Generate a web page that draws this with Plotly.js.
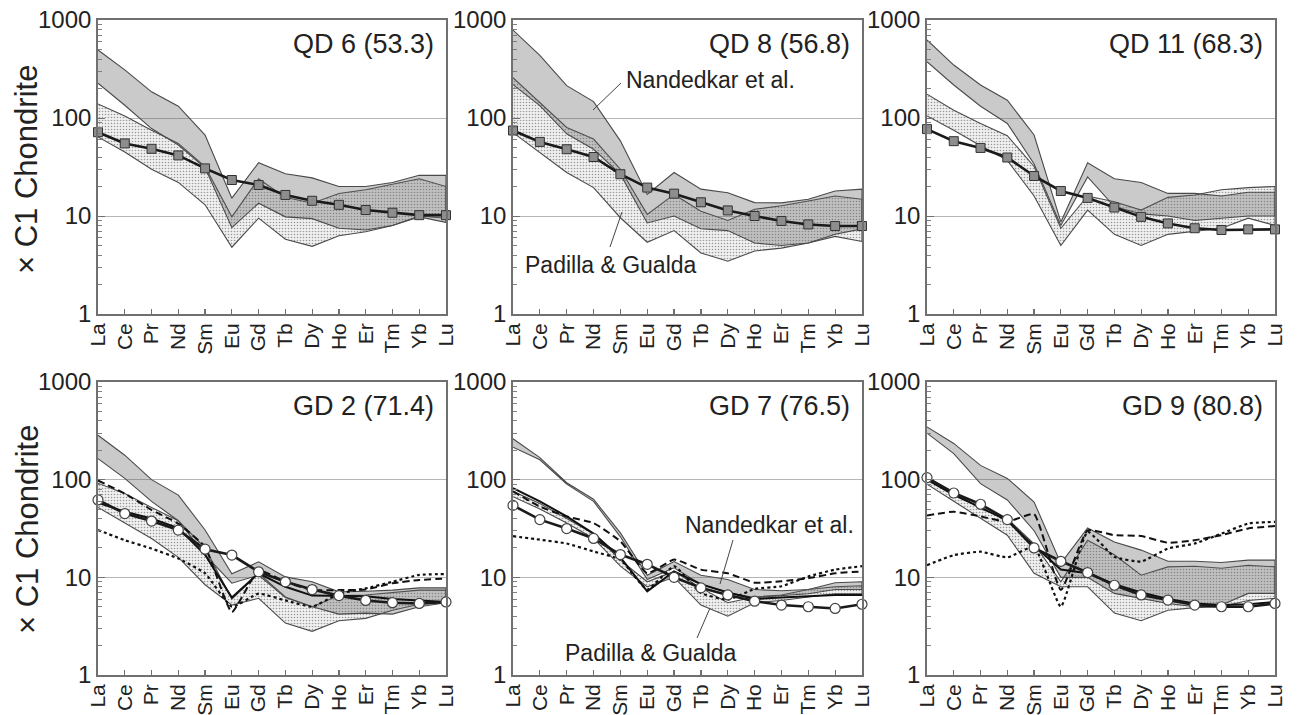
<!DOCTYPE html>
<html>
<head>
<meta charset="utf-8">
<script src="https://cdn.plot.ly/plotly-3.0.1.min.js"></script>
<style>html,body{margin:0;padding:0;background:#fff;}#chart{width:1298px;height:715px;}</style>
</head>
<body>
<div id="chart"></div>
<script>
// ---- Data ----
const elements = ['La','Ce','Pr','Nd','Sm','Eu','Gd','Tb','Dy','Ho','Er','Tm','Yb','Lu'];
const yTickVals = [1, 10, 100, 1000];
const yTickText = ['1', '10', '100', '1000'];
const panelTitles = ['QD 6 (53.3)', 'QD 8 (56.8)', 'QD 11 (68.3)', 'GD 2 (71.4)', 'GD 7 (76.5)', 'GD 9 (80.8)'];

// QD 6
const qd6_nandUp = [494, 310, 185, 132, 67, 15.2, 35, 27, 24.5, 20, 20, 22, 26, 26];
const qd6_nandLo = [226, 135, 78, 53, 31, 7.6, 13.5, 9.8, 9.4, 7.5, 7.2, 8, 9.8, 8.6];
const qd6_padUp = [139, 105, 75, 55, 32, 9.8, 24, 15.5, 13.5, 17, 18.5, 21, 24, 20];
const qd6_padLo = [64, 45, 30, 22, 13, 4.8, 9.5, 5.8, 4.9, 6.3, 6.9, 8, 10, 9.5];
const qd6_sample = [71.6, 55, 48.5, 41.5, 30.6, 23.3, 20.7, 16.4, 14.3, 13, 11.5, 10.8, 10.2, 10.2];

// QD 8
const qd8_nandUp = [790, 435, 214, 147, 58.5, 16.6, 27.8, 18.8, 17.3, 13.7, 13.6, 14.8, 18, 18.8];
const qd8_nandLo = [219, 134, 69, 48, 26.7, 8.5, 10, 7.4, 7.1, 5.3, 5, 5.3, 6.5, 7.4];
const qd8_padUp = [258, 145, 80, 61, 30, 10.4, 16.6, 11.2, 9, 11.7, 12.7, 14.2, 16, 14.8];
const qd8_padLo = [71, 44.5, 27.8, 19.5, 9.6, 5.4, 7.1, 4.2, 3.45, 4.4, 4.7, 5.3, 6.2, 5.5];
const qd8_sample = [74.5, 57, 48, 40, 26.7, 19.5, 16.9, 13.8, 11.4, 10, 8.9, 8.2, 7.9, 7.9];

// QD 11
const qd11_nandUp = [625, 347, 217, 152, 67, 8.7, 35, 24, 22, 17, 17, 16, 17.5, 17.5];
const qd11_nandLo = [375, 217, 132, 88, 34, 8.0, 25, 12.5, 10.5, 10, 9, 9.5, 10, 10];
const qd11_padUp = [175, 120, 88, 66, 32, 7.5, 16, 14, 11.5, 15.5, 16.4, 18.5, 19.5, 20];
const qd11_padLo = [105, 75, 52, 37, 16, 5.0, 11.5, 6.5, 5.0, 6.5, 7, 7.5, 9.5, 8];
const qd11_sample = [77, 58, 49.5, 39.5, 25.6, 18, 15.3, 12.2, 9.8, 8.4, 7.5, 7.2, 7.3, 7.3];

// GD 2
const gd2_nandUp = [285, 178, 100, 69.5, 30.5, 10.9, 14.4, 10.1, 9, 7.1, 7.2, 7.4, 7.8, 7.8];
const gd2_nandLo = [164, 103, 60, 38, 17, 8.7, 10.5, 6.2, 5.0, 4.2, 4.3, 4.2, 5.0, 5.5];
const gd2_padUp = [92, 72, 52, 38, 20, 6.0, 11, 6.3, 5.0, 6.5, 6.6, 7, 7.4, 7.4];
const gd2_padLo = [52, 36, 25, 16, 8.4, 5.2, 6.1, 3.4, 2.8, 3.6, 3.8, 4.6, 5.3, 5.5];
const gd2_sample = [62, 45, 37.7, 30.5, 19.4, 16.9, 11.4, 9, 7.5, 6.5, 5.8, 5.5, 5.4, 5.6];
const gd2_solid = [58, 47, 40, 32, 17, 6.2, 11, 8, 6.5, 6.5, 6.4, 6, 5.8, 5.6];
const gd2_dashed = [98, 72, 49, 35.5, 20.5, 4.4, 11.8, 9, 7.4, 7.4, 7.5, 8.7, 9.4, 9.7];
const gd2_dotted = [30.5, 24, 19.7, 15.6, 11, 5, 6.8, 5.8, 5, 6.8, 7.7, 9, 10.6, 10.8];

// GD 7
const gd7_nandUp = [262, 168, 93, 63, 28.5, 10.5, 14.5, 10.5, 9.5, 7.5, 7.3, 7.5, 8.8, 9];
const gd7_nandLo = [215, 160, 90, 60, 26, 9.5, 12.5, 8.5, 7, 6.2, 6.5, 6.8, 7.5, 7.5];
const gd7_padUp = [76, 57, 40, 28, 15, 9, 11.5, 7.8, 5.5, 6.3, 6.6, 7.5, 8, 8.2];
const gd7_padLo = [67, 50, 36, 25, 13, 8, 10, 5.2, 4.0, 5.5, 5.8, 6.3, 6.8, 6.8];
const gd7_sample = [54.5, 39, 31.6, 25, 17.1, 13.6, 10, 7.8, 6.6, 5.7, 5.2, 5.0, 4.8, 5.3];
const gd7_solid = [82, 60, 42, 28, 16, 7.2, 11.5, 8.5, 7, 6, 6.2, 6.4, 6.6, 6.6];
const gd7_dashed = [76, 53, 42, 36, 23.4, 11, 15.2, 12, 11, 8.8, 9.1, 9.8, 11, 11.5];
const gd7_dotted = [26.4, 24.3, 22.2, 18.4, 15.2, 7.5, 13, 6.9, 5.9, 7.6, 8.1, 10.2, 12, 13];

// GD 9
const gd9_nandUp = [347, 235, 140, 103, 59, 13.9, 32, 23, 19, 14.6, 14.6, 14.2, 15, 15];
const gd9_nandLo = [300, 185, 91, 62, 30, 10, 10, 6.85, 6.1, 5.4, 5.0, 5.2, 6.85, 6.85];
const gd9_padUp = [105, 75, 50, 40, 22, 9, 24, 17, 10.5, 12.8, 13, 12.4, 13.3, 12.8];
const gd9_padLo = [90, 60, 40, 27, 11, 8, 8, 4.3, 3.6, 4.6, 4.9, 5.0, 5.8, 6.1];
const gd9_sample = [105, 73, 56, 39, 20, 14.6, 11.2, 8.3, 6.6, 5.85, 5.2, 5, 5, 5.4];
const gd9_solid = [100, 70, 52, 38, 21, 12, 11, 8.5, 7, 6, 5.4, 5.2, 5.3, 5.6];
const gd9_dashed = [43, 47, 42, 37, 44.5, 7.4, 30.3, 27, 26.5, 22.6, 24, 27, 31.7, 33.5];
const gd9_dotted = [13.3, 16.9, 18.3, 16, 20.5, 5, 29.3, 16.2, 14.5, 19.7, 22.2, 28, 35.6, 37];

// ---- Layout geometry (pixels) ----
const W = 1298, H = 715;
const xDom = [[98, 446], [513, 862], [927, 1275]];
const yDom = [[20, 314], [382, 675]];

const panels = [
  {nU: qd6_nandUp, nL: qd6_nandLo, pU: qd6_padUp, pL: qd6_padLo, s: qd6_sample, kind: 'sq'},
  {nU: qd8_nandUp, nL: qd8_nandLo, pU: qd8_padUp, pL: qd8_padLo, s: qd8_sample, kind: 'sq'},
  {nU: qd11_nandUp, nL: qd11_nandLo, pU: qd11_padUp, pL: qd11_padLo, s: qd11_sample, kind: 'sq'},
  {nU: gd2_nandUp, nL: gd2_nandLo, pU: gd2_padUp, pL: gd2_padLo, s: gd2_sample, kind: 'ci', solid: gd2_solid, dashed: gd2_dashed, dotted: gd2_dotted},
  {nU: gd7_nandUp, nL: gd7_nandLo, pU: gd7_padUp, pL: gd7_padLo, s: gd7_sample, kind: 'ci', solid: gd7_solid, dashed: gd7_dashed, dotted: gd7_dotted},
  {nU: gd9_nandUp, nL: gd9_nandLo, pU: gd9_padUp, pL: gd9_padLo, s: gd9_sample, kind: 'ci', solid: gd9_solid, dashed: gd9_dashed, dotted: gd9_dotted}
];

const FONT = 'Liberation Sans, Arial, Helvetica, sans-serif';
const revEls = elements.slice().reverse();
const polyX = elements.concat(revEls);

const traces = [];
const layout = {
  width: W, height: H,
  margin: {l: 0, r: 0, t: 0, b: 0},
  paper_bgcolor: '#ffffff', plot_bgcolor: '#ffffff',
  showlegend: false,
  font: {family: FONT, color: '#222'},
  annotations: [], shapes: []
};

panels.forEach((p, i) => {
  const n = i + 1;
  const xa = 'x' + (n === 1 ? '' : n), ya = 'y' + (n === 1 ? '' : n);
  const col = i % 3, row = Math.floor(i / 3);
  const xd = xDom[col], yd = yDom[row];

  // Padilla & Gualda band (stippled)
  traces.push({
    type: 'scatter', mode: 'lines', xaxis: xa, yaxis: ya,
    x: polyX, y: p.pU.concat(p.pL.slice().reverse()),
    fill: 'toself', fillcolor: '#f0f0f0',
    fillpattern: {shape: '.', bgcolor: '#f0f0f0', fgcolor: '#9a9a9a', size: 3, solidity: 0.22},
    line: {color: '#4a4a4a', width: 1.1}, hoverinfo: 'skip'
  });
  // Nandedkar et al. band (grey)
  traces.push({
    type: 'scatter', mode: 'lines', xaxis: xa, yaxis: ya,
    x: polyX, y: p.nU.concat(p.nL.slice().reverse()),
    fill: 'toself', fillcolor: 'rgba(95,95,95,0.33)',
    line: {color: '#4a4a4a', width: 1.1}, hoverinfo: 'skip'
  });
  if (p.kind === 'ci') {
    traces.push({type: 'scatter', mode: 'lines', xaxis: xa, yaxis: ya, x: elements, y: p.dotted,
      line: {color: '#111', width: 2.2, dash: 'dot', shape: 'spline', smoothing: 0.4}});
    traces.push({type: 'scatter', mode: 'lines', xaxis: xa, yaxis: ya, x: elements, y: p.dashed,
      line: {color: '#111', width: 2, dash: '7px,4px', shape: 'spline', smoothing: 0.4}});
    traces.push({type: 'scatter', mode: 'lines', xaxis: xa, yaxis: ya, x: elements, y: p.solid,
      line: {color: '#111', width: 2}});
  }
  // Sample data
  traces.push({
    type: 'scatter', mode: 'lines+markers', xaxis: xa, yaxis: ya, cliponaxis: false,
    x: elements, y: p.s,
    line: {color: '#1a1a1a', width: 2.6},
    marker: p.kind === 'sq'
      ? {symbol: 'square', size: 9, color: '#8d8d8d', line: {color: '#333', width: 1}}
      : {symbol: 'circle', size: 10, color: '#ffffff', line: {color: '#444', width: 1.2}}
  });

  const axX = 'xaxis' + (n === 1 ? '' : n), axY = 'yaxis' + (n === 1 ? '' : n);
  layout[axX] = {
    domain: [xd[0] / W, xd[1] / W], anchor: ya,
    type: 'category', range: [0, 13],
    tickmode: 'array', tickvals: elements, ticktext: elements,
    tickangle: -90, ticks: 'inside', ticklen: 5, tickcolor: '#707070', tickwidth: 1.2,
    ticklabelstandoff: -1,
    tickfont: {family: FONT, size: 21, color: '#222'},
    showline: true, mirror: true, linecolor: '#707070', linewidth: 1.8,
    showgrid: false, zeroline: false, fixedrange: true
  };
  layout[axY] = {
    domain: [1 - yd[1] / H, 1 - yd[0] / H], anchor: xa,
    type: 'log', range: [0, 3],
    tickmode: 'array', tickvals: yTickVals, ticktext: yTickText,
    ticks: 'inside', ticklen: 7, tickcolor: '#707070', tickwidth: 1,
    tickfont: {family: FONT, size: 24, color: '#222'},
    minor: {tickmode: 'array', tickvals: [2,3,4,5,6,7,8,9,20,30,40,50,60,70,80,90,200,300,400,500,600,700,800,900],
            ticks: 'inside', ticklen: 4, tickcolor: '#808080', showgrid: false},
    showline: true, mirror: true, linecolor: '#707070', linewidth: 1.8,
    showgrid: true, gridcolor: '#b5b5b5', gridwidth: 1, zeroline: false, fixedrange: true
  };

  layout.annotations.push({
    xref: 'paper', yref: 'paper', x: (xd[1] - 10) / W, y: 1 - (yd[0] + 24) / H,
    xanchor: 'right', yanchor: 'middle', showarrow: false,
    text: panelTitles[i], font: {family: FONT, size: 27, color: '#222'}
  });
});

// Y axis titles
[170, 530].forEach(cy => {
  layout.annotations.push({
    xref: 'paper', yref: 'paper', x: 27 / W, y: 1 - cy / H,
    xanchor: 'center', yanchor: 'middle', showarrow: false, textangle: -90,
    text: '× C1 Chondrite', font: {family: FONT, size: 31, color: '#222'}
  });
});

// Band labels with leader lines
const bandLabels = [
  {text: 'Nandedkar et al.', x: 624, y: 80, line: [621, 83, 593, 110]},
  {text: 'Padilla &amp; Gualda', x: 523, y: 265, line: [610, 247, 622, 212]},
  {text: 'Nandedkar et al.', x: 683, y: 525, line: [733, 540, 720, 584]},
  {text: 'Padilla &amp; Gualda', x: 563, y: 653, line: [697, 638, 710, 608]}
];
bandLabels.forEach(b => {
  layout.annotations.push({
    xref: 'paper', yref: 'paper', x: b.x / W, y: 1 - b.y / H,
    xanchor: 'left', yanchor: 'middle', showarrow: false,
    text: b.text, font: {family: FONT, size: 23, color: '#222'}
  });
  layout.shapes.push({
    type: 'line', xref: 'paper', yref: 'paper',
    x0: b.line[0] / W, y0: 1 - b.line[1] / H, x1: b.line[2] / W, y1: 1 - b.line[3] / H,
    line: {color: '#444', width: 1}
  });
});

Plotly.newPlot('chart', traces, layout, {staticPlot: true, displayModeBar: false});
</script>
</body>
</html>
